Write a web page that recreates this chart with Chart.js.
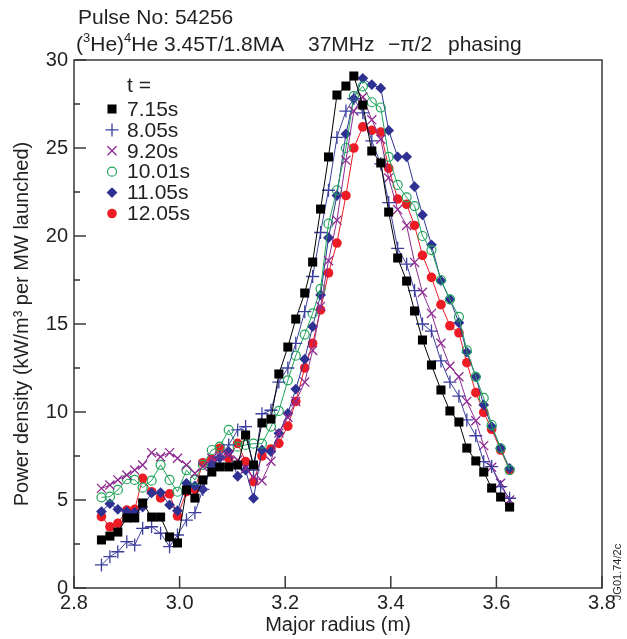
<!DOCTYPE html>
<html>
<head>
<meta charset="utf-8">
<script src="https://cdn.jsdelivr.net/npm/chart.js@4"></script>
<style>
  html, body { margin: 0; padding: 0; background: #fff; }
</style>
</head>
<body>
<canvas id="chart" width="627" height="639"></canvas>
<script>
// Major radius (m) of the measurement channels
const radius = [2.852, 2.868, 2.883, 2.900, 2.915, 2.930, 2.947, 2.964, 2.981, 2.996,
  3.013, 3.029, 3.044, 3.061, 3.076, 3.093, 3.110, 3.125, 3.140, 3.156,
  3.173, 3.188, 3.205, 3.220, 3.237, 3.252, 3.267, 3.282, 3.298, 3.315,
  3.330, 3.347, 3.364, 3.381, 3.396, 3.413, 3.430, 3.445, 3.460, 3.477,
  3.495, 3.512, 3.529, 3.544, 3.561, 3.576, 3.591, 3.608, 3.625];

// power density, kW/m3 per MW launched
const t715 = [2.73, 2.95, 3.18, 3.98, 3.98, 4.83, 4.03, 4.03, 2.90, 2.56,
  5.57, 5.11, 6.14, 6.59, 6.88, 6.88, 6.99, 8.69, 6.99, 9.38,
  9.60, 12.16, 13.69, 15.28, 16.76, 18.52, 21.53, 24.49, 28.01, 28.52,
  29.09, 27.44, 24.83, 24.15, 21.36, 18.75, 17.44, 15.74, 14.09, 12.67,
  11.25, 10.06, 9.43, 7.95, 7.22, 6.59, 5.68, 5.17, 4.60];
const t805 = [1.31, 1.78, 2.06, 2.63, 2.44, 3.39, 3.48, 3.11, 2.35, 3.01,
  3.86, 4.28, 5.6, 6.86, 7.43, 8.13, 8.98, 9.17, 6.7, 9.9,
  10.1, 11.7, 12.5, 13.9, 15.7, 17.7, 20.2, 22.6, 25.6, 27.1,
  27.8, 27.0, 25.4, 24.1, 21.9, 19.3, 18.4, 16.9, 15.0, 14.6,
  12.9, 11.7, 10.9, 9.55, 8.65, 7.18, 6.9, 5.76, 5.10];
const t920 = [5.66, 5.85, 6.14, 6.42, 6.70, 6.99, 7.69, 7.46, 7.69, 7.37,
  6.99, 6.52, 6.9, 7.37, 7.5, 7.6, 7.27, 6.8, 6.3, 6.1,
  7.2, 8.8, 9.7, 10.6, 11.7, 13.5, 16.0, 18.6, 20.9, 24.3,
  27.1, 27.9, 26.6, 25.5, 23.3, 21.5, 20.6, 18.5, 16.8, 15.6,
  13.9, 12.6, 12.0, 10.6, 9.5, 8.09, 6.86, 5.95, 5.0];
const t1001 = [5.15, 5.19, 5.57, 6.18, 6.14, 5.7, 6.1, 7.0, 6.14, 5.47,
  6.7, 6.14, 7.0, 7.84, 8.03, 8.98, 8.03, 8.13, 8.2, 8.2,
  9.17, 10.06, 11.8, 13.2, 14.4, 15.6, 17.0, 20.7, 22.6, 25.0,
  27.95, 28.5, 27.6, 27.3, 24.5, 22.9, 22.2, 21.7, 20.0, 19.2,
  17.5, 16.4, 15.4, 13.5, 12.0, 10.8, 9.26, 7.94, 6.7];
const t1105 = [4.34, 4.79, 4.47, 4.34, 4.3, 4.6, 5.4, 5.42, 4.72, 4.39,
  5.95, 5.80, 5.6, 7.0, 7.4, 7.75, 6.35, 6.7, 5.10, 7.84,
  7.75, 8.79, 9.92, 11.3, 13.0, 14.85, 16.65, 19.9, 22.3, 25.8,
  27.8, 28.96, 28.6, 28.4, 26.0, 24.5, 24.5, 22.8, 21.2, 19.5,
  17.46, 16.4, 15.07, 13.4, 12.0, 10.4, 9.17, 7.94, 6.8];
const t1205 = [4.05, 3.48, 3.67, 4.43, 4.47, 6.23, 5.47, 5.12, 5.35, 4.09,
  5.47, 5.61, 7.12, 7.31, 7.94, 7.37, 8.22, 7.18, 6.04, 7.5,
  7.9, 8.22, 9.2, 10.6, 12.5, 13.9, 15.8, 17.9, 19.6, 22.3,
  25.0, 26.2, 26.0, 25.9, 23.85, 22.1, 21.8, 20.6, 18.9, 17.65,
  16.1, 14.9, 14.5, 12.8, 11.1, 9.98, 9.02, 7.84, 6.7];

const labels = ['7.15s', '8.05s', '9.20s', '10.01s', '11.05s', '12.05s'];
const xTicks = [2.8, 3.0, 3.2, 3.4, 3.6, 3.8];
const yTicks = [0, 5, 10, 15, 20, 25, 30];

const textColor = '#231f20';
const font = '"Liberation Sans", Arial, Helvetica, sans-serif';

function series(label, values, color, style, r, fill, bw) {
  return {
    label: label,
    data: radius.map((x, i) => ({ x: x, y: values[i] })),
    showLine: true,
    borderColor: color,
    borderWidth: 1,
    tension: 0,
    pointStyle: style,
    pointRadius: r,
    pointHoverRadius: r,
    pointBackgroundColor: fill,
    pointBorderColor: color,
    pointBorderWidth: bw
  };
}

const datasets = [
  series(labels[0], t715, '#000000', 'rect', 6.4, '#000000', 0),
  series(labels[1], t805, '#3d3f9e', 'cross', 6.5, '#3d3f9e', 1.3),
  series(labels[2], t920, '#8e2a92', 'crossRot', 6.4, '#8e2a92', 1.3),
  series(labels[3], t1001, '#1fa45a', 'circle', 4.5, 'rgba(255,255,255,0)', 1.2),
  series(labels[4], t1105, '#2e3192', 'rectRot', 5.4, '#2e3192', 0),
  series(labels[5], t1205, '#ed1c24', 'circle', 4.8, '#ed1c24', 0)
];

// frame and inward ticks
const framePlugin = {
  id: 'frame',
  beforeDatasetsDraw(chart) {
    const { ctx, chartArea: a, scales: { x, y } } = chart;
    ctx.save();
    ctx.strokeStyle = '#3a3a3a';
    ctx.lineWidth = 1.5;
    ctx.strokeRect(a.left, a.top, a.right - a.left, a.bottom - a.top);
    ctx.beginPath();
    xTicks.forEach(v => {
      const px = x.getPixelForValue(v);
      ctx.moveTo(px, a.bottom);
      ctx.lineTo(px, a.bottom - 12);
    });
    for (let v = 0; v <= 30; v += 2.5) {
      const py = y.getPixelForValue(v);
      const len = v % 5 === 0 ? 12 : 6;
      ctx.moveTo(a.left, py);
      ctx.lineTo(a.left + len, py);
    }
    ctx.stroke();
    ctx.restore();
  }
};

// header text, legend and the figure id
const textPlugin = {
  id: 'texts',
  afterDraw(chart) {
    const ctx = chart.ctx;
    ctx.save();
    ctx.fillStyle = textColor;
    ctx.textBaseline = 'middle';
    ctx.textAlign = 'left';

    ctx.font = '21px ' + font;
    ctx.fillText('Pulse No: 54256', 78, 18);

    let x = 76;
    const y = 45;
    const part = (txt, size, dy) => {
      ctx.font = size + 'px ' + font;
      ctx.fillText(txt, x, y + dy);
      x += ctx.measureText(txt).width;
    };
    part('(', 21, 0);
    part('3', 13, -7);
    part('He)', 21, 0);
    part('4', 13, -7);
    part('He 3.45T/1.8MA', 21, 0);
    ctx.font = '21px ' + font;
    ctx.fillText('37MHz', 308, y);
    ctx.fillText('\u2212\u03c0/2', 388, y);
    ctx.fillText('phasing', 448, y);

    // legend
    ctx.font = '21px ' + font;
    ctx.fillText('t =', 127, 86);
    chart.data.datasets.forEach((ds, i) => {
      const ly = 109 + i * 20.9;
      ctx.fillStyle = ds.pointBackgroundColor;
      ctx.strokeStyle = ds.pointBorderColor;
      ctx.lineWidth = ds.pointBorderWidth;
      Chart.helpers.drawPoint(ctx, {
        pointStyle: ds.pointStyle,
        radius: ds.pointRadius,
        borderWidth: ds.pointBorderWidth,
        rotation: 0
      }, 112, ly);
      ctx.fillStyle = textColor;
      ctx.fillText(ds.label, 127, ly + 1);
    });

    // figure id
    ctx.translate(618, 572);
    ctx.rotate(-Math.PI / 2);
    ctx.textAlign = 'center';
    ctx.font = '11px ' + font;
    ctx.fillText('JG01.74/2c', 0, 0);
    ctx.restore();
  }
};

new Chart(document.getElementById('chart'), {
  type: 'scatter',
  data: { datasets: datasets },
  options: {
    responsive: false,
    animation: false,
    layout: { padding: { left: 0, top: 60, right: 25, bottom: 0 } },
    plugins: {
      legend: { display: false },
      tooltip: { enabled: false }
    },
    scales: {
      x: {
        type: 'linear',
        min: 2.8,
        max: 3.8,
        afterFit: s => { s.height = 51; },
        afterBuildTicks: s => { s.ticks = xTicks.map(v => ({ value: v })); },
        ticks: {
          color: textColor,
          font: { size: 20, family: font },
          padding: 3,
          maxRotation: 0,
          callback: v => v.toFixed(1)
        },
        grid: { display: false, drawTicks: false },
        border: { display: false },
        title: {
          display: true,
          text: 'Major radius (m)',
          color: textColor,
          font: { size: 20, family: font },
          padding: { top: 0, bottom: 2 }
        }
      },
      y: {
        min: 0,
        max: 30,
        afterFit: s => { s.width = 74; },
        afterBuildTicks: s => { s.ticks = yTicks.map(v => ({ value: v })); },
        ticks: {
          color: textColor,
          font: { size: 20, family: font },
          padding: 6
        },
        grid: { display: false, drawTicks: false },
        border: { display: false },
        title: {
          display: true,
          text: 'Power density (kW/m\u00b3 per MW launched)',
          color: textColor,
          font: { size: 20, family: font },
          padding: { top: 10, bottom: 0 }
        }
      }
    }
  },
  plugins: [framePlugin, textPlugin]
});
</script>
</body>
</html>
